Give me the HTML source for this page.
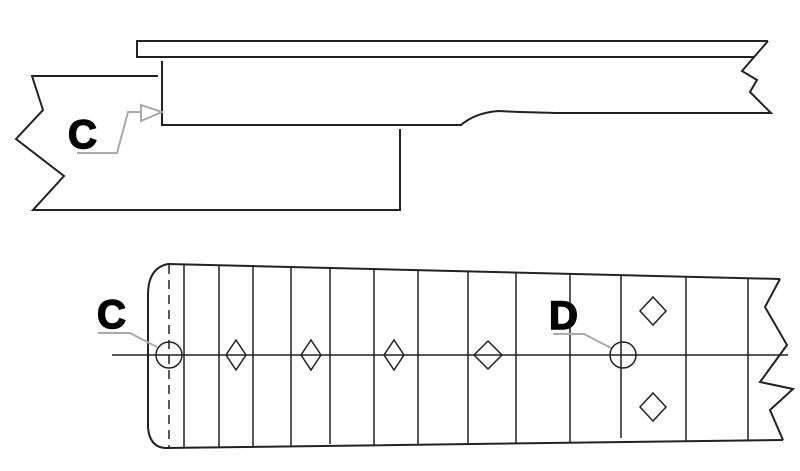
<!DOCTYPE html>
<html><head><meta charset="utf-8"><style>html,body{margin:0;padding:0;background:#fff}svg{display:block}</style></head>
<body>
<svg width="800" height="471" viewBox="0 0 800 471" xmlns="http://www.w3.org/2000/svg">
<g fill="none" stroke="#222" stroke-width="2">
<polyline points="768,41 137,41 137,57 755,57"/>
<polyline points="768,41 742,71 757,80 750,92 771,113 557,113"/>
<path d="M557,113 L520,112 L498,111 Q475,113 461,125 L162,125 L162,61"/>
<polyline points="158,76 32,76 43,110 16,139 64,176 33,210 400,210 400,129"/>
<path d="M780,279 L168,264 Q148,268 148,295 L148,428 Q150,447 165,448 L783,440"/>
<polyline points="780,279 765,307 787,345 760,382 793,389 770,410 783,440"/>
<line x1="112" y1="355" x2="788" y2="355" stroke-width="1.5"/>
<line x1="169" y1="265" x2="169" y2="448" stroke-dasharray="9,6" stroke-width="1.5"/>
<g stroke-width="1.5">
<line x1="184" y1="265" x2="184" y2="448"/>
<line x1="219" y1="266" x2="219" y2="447"/>
<line x1="253" y1="267" x2="253" y2="447"/>
<line x1="291" y1="268" x2="291" y2="447"/>
<line x1="330" y1="268" x2="330" y2="444"/>
<line x1="374" y1="270" x2="374" y2="446"/>
<line x1="418" y1="271" x2="418" y2="445"/>
<line x1="468" y1="272" x2="468" y2="445"/>
<line x1="516" y1="273" x2="516" y2="444"/>
<line x1="570" y1="274" x2="570" y2="443"/>
<line x1="621" y1="275" x2="621" y2="438"/>
<line x1="686" y1="277" x2="686" y2="442"/>
<line x1="748" y1="278" x2="748" y2="441"/>
<circle cx="169" cy="355" r="13"/>
<circle cx="623" cy="355" r="13"/>
<polygon points="236,340 246,355 236,370 226,355"/>
<polygon points="311,340 321,355 311,370 301,355"/>
<polygon points="394,340 404,355 394,370 384,355"/>
<polygon points="488,341 502,355 488,369 474,355"/>
<polygon points="653,297 666,311 653,325 640,311"/>
<polygon points="653,393 666,407 653,421 640,407"/>
</g>
</g>
<g fill="none" stroke="#aaa" stroke-width="2">
<polyline points="77,153 117,153 128,112 141,112"/>
<polygon points="141,105 141,121 162,112"/>
<polyline points="98,333 130,333 157,347"/>
<polyline points="553,334 584,334 611,348"/>
</g>
<g font-family="Liberation Sans, sans-serif" font-weight="bold" font-size="40" fill="#000" stroke="#000" stroke-width="1.5">
<text x="68" y="148">C</text>
<text x="97" y="328">C</text>
<text x="549" y="329">D</text>
</g>
</svg>
</body></html>
